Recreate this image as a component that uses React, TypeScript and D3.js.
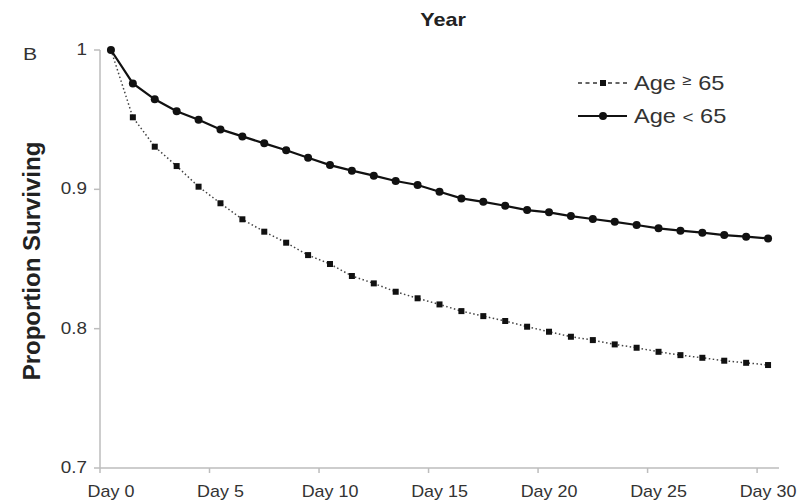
import React from "react";
import * as d3 from "d3";

// Day index 0..30
const days: number[] = d3.range(0, 31);
const tickDays: number[] = [0, 5, 10, 15, 20, 25, 30];
const yTicks: number[] = [0.7, 0.8, 0.9, 1];

// Proportion surviving by day
const ageUnder65: number[] = [
  1.0, 0.976, 0.9646, 0.956, 0.95, 0.943, 0.938, 0.933, 0.928, 0.9227, 0.9174,
  0.9134, 0.9098, 0.906, 0.9031, 0.8983, 0.8935, 0.891, 0.8882, 0.8851, 0.8835,
  0.8808, 0.8787, 0.8767, 0.8744, 0.872, 0.8703, 0.8689, 0.8672, 0.866, 0.8648,
];
const age65Plus: number[] = [
  1.0, 0.9517, 0.9306, 0.9167, 0.9019, 0.89, 0.8785, 0.8696, 0.8617, 0.8528,
  0.8464, 0.8378, 0.8325, 0.8265, 0.8218, 0.8174, 0.8126, 0.809, 0.8055, 0.8014,
  0.7978, 0.7942, 0.7918, 0.7887, 0.7863, 0.7834, 0.781, 0.7791, 0.777, 0.7755,
  0.7739,
];

const W = 799;
const H = 503;
const FONT = "'Liberation Sans', Arial, Helvetica, sans-serif";
const TEXT = "#333";
const AXIS = "#bdbdbd";

type STextProps = {
  x: number;
  y: number;
  anchor?: "start" | "middle" | "end";
  size: number;
  weight?: string | number;
  sx?: number;
  fill?: string;
  children: React.ReactNode;
};

// Text widened horizontally around its anchor point
function SText({ x, y, anchor = "start", size, weight = "normal", sx = 1.12, fill = TEXT, children }: STextProps) {
  return (
    <text
      transform={`translate(${x},${y}) scale(${sx},1)`}
      textAnchor={anchor}
      fontFamily={FONT}
      fontSize={size}
      fontWeight={weight}
      fill={fill}
    >
      {children}
    </text>
  );
}

export default function App() {
  const x = d3.scaleBand<number>().domain(days).range([100, 779]).paddingInner(0).paddingOuter(0);
  const y = d3.scaleLinear().domain([0.7, 1]).range([468, 50]);
  const cx = (d: number) => (x(d) as number) + x.bandwidth() / 2;

  const line = d3
    .line<number>()
    .x((_, i) => cx(days[i]))
    .y((v) => y(v));

  const [x0, x1] = x.range();

  return (
    <svg width={W} height={H} style={{ position: "absolute", left: 0, top: 0, background: "#fff" }}>
      <rect x={0} y={0} width={W} height={H} fill="#fff" />

      {/* Title */}
      <SText x={443} y={26} anchor="middle" size={18} weight="bold" sx={1.2} fill="#222">
        Year
      </SText>
      <SText x={30} y={60} anchor="middle" size={17} sx={1.25}>
        B
      </SText>

      {/* Y axis */}
      <line x1={x0} x2={x0} y1={y(1)} y2={y(0.7)} stroke={AXIS} strokeWidth={1.5} />
      {yTicks.map((t) => (
        <g key={t}>
          <line x1={x0 - 6} x2={x0} y1={y(t)} y2={y(t)} stroke={AXIS} strokeWidth={1.5} />
          <SText x={87} y={y(t) + 5} anchor="end" size={16} sx={1.18}>
            {d3.format("~g")(t)}
          </SText>
        </g>
      ))}
      <text
        transform={`translate(40,${261}) rotate(-90)`}
        textAnchor="middle"
        fontFamily={FONT}
        fontSize={24}
        fontWeight="bold"
        fill="#222"
      >
        Proportion Surviving
      </text>

      {/* X axis */}
      <line x1={x0} x2={x1} y1={y(0.7)} y2={y(0.7)} stroke={AXIS} strokeWidth={1.5} />
      {tickDays.map((d) => (
        <g key={d}>
          <line x1={x(d) as number} x2={x(d) as number} y1={y(0.7)} y2={y(0.7) + 5} stroke={AXIS} strokeWidth={1.5} />
          <SText x={cx(d)} y={497} anchor="middle" size={16} sx={1.12}>
            {`Day ${d}`}
          </SText>
        </g>
      ))}

      {/* Age >= 65: dotted line with square markers */}
      <path d={line(age65Plus) ?? ""} fill="none" stroke="#444" strokeWidth={1.5} strokeDasharray="1.5 2.5" />
      {age65Plus.map((v, i) => (
        <rect key={i} x={cx(days[i]) - 3} y={y(v) - 3} width={6} height={6} fill="#111" />
      ))}

      {/* Age < 65: solid line with circle markers */}
      <path d={line(ageUnder65) ?? ""} fill="none" stroke="#111" strokeWidth={2.2} />
      {ageUnder65.map((v, i) => (
        <circle key={i} cx={cx(days[i])} cy={y(v)} r={4} fill="#111" />
      ))}

      {/* Legend */}
      <g>
        <line x1={578} x2={627} y1={83} y2={83} stroke="#333" strokeWidth={1.5} strokeDasharray="4 3.5" />
        <rect x={603 - 3} y={83 - 3} width={6} height={6} fill="#111" />
        <SText x={634} y={90} size={20} sx={1.18}>
          Age{" "}
          <tspan fontSize={14} dy={-5}>≥</tspan>
          <tspan dy={5}> 65</tspan>
        </SText>

        <line x1={578} x2={627} y1={116} y2={116} stroke="#111" strokeWidth={2.2} />
        <circle cx={603} cy={116} r={4} fill="#111" />
        <SText x={634} y={123} size={20} sx={1.18}>
          Age <tspan fontSize={16}>&lt;</tspan> 65
        </SText>
      </g>
    </svg>
  );
}
